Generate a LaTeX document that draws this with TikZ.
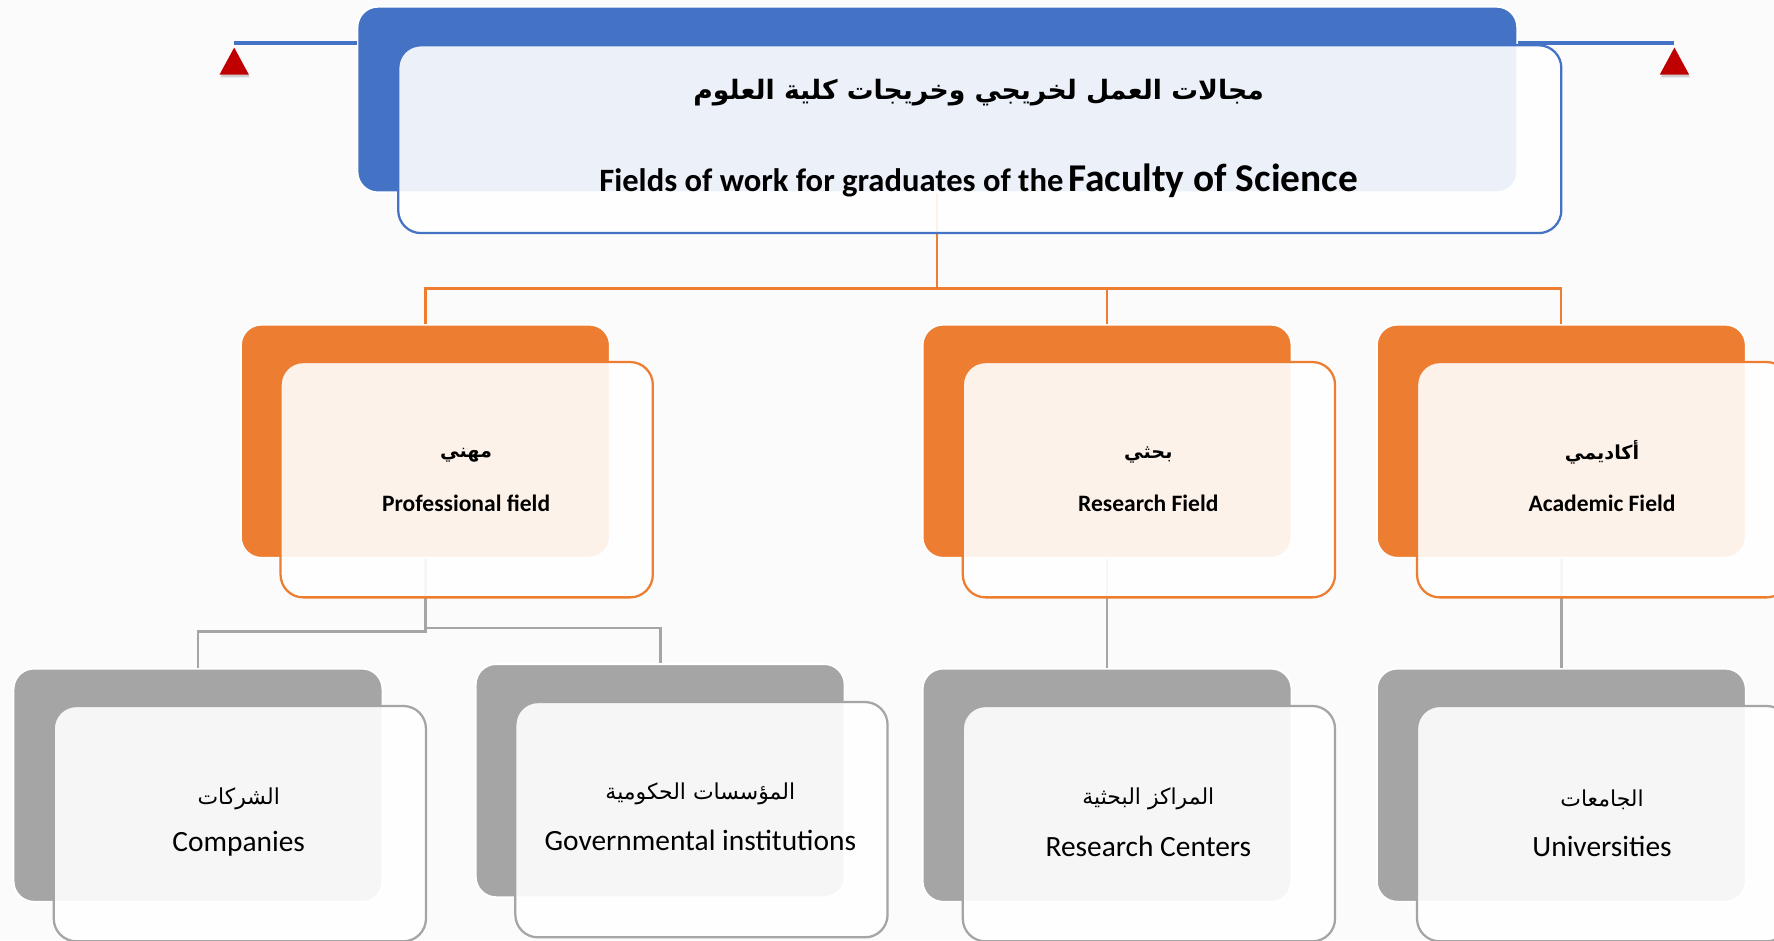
\documentclass[tikz,border=0pt]{standalone}
\usepackage{fontspec}
\setmainfont{Carlito}
\newfontfamily\arabicfont[Script=Arabic]{DejaVu Sans}
\TeXXeTstate=1
\usetikzlibrary{shadows,calc}
\definecolor{cblue}{HTML}{4472C4}
\definecolor{corange}{HTML}{ED7D31}
\definecolor{cgray}{HTML}{A5A5A5}
\definecolor{cred}{HTML}{C00000}
\definecolor{cbg}{HTML}{FBFBFB}
\tikzset{
  backbox/.style={rectangle, rounded corners=9pt, minimum width=163pt, minimum height=103pt, inner sep=0pt, draw=white, line width=0.8pt},
  frontbox/.style={rectangle, rounded corners=10pt, minimum width=164.5pt, minimum height=104pt, inner sep=0pt, fill=white, fill opacity=0.9, line width=1pt},
  titleback/.style={backbox, fill=cblue, minimum width=512.5pt, minimum height=82pt},
  titlefront/.style={frontbox, draw=cblue, minimum width=514pt, minimum height=83pt},
  oback/.style={backbox, fill=corange},
  ofront/.style={frontbox, draw=corange},
  gback/.style={backbox, fill=cgray},
  gfront/.style={frontbox, draw=cgray},
  oline/.style={draw=corange, line width=1pt},
  gline/.style={draw=cgray, line width=1.2pt},
  bline/.style={draw=cblue, line width=1.5pt},
  redtri/.style={fill=cred, drop shadow={opacity=0.35, shadow xshift=0.4pt, shadow yshift=-1.2pt}},
  artitle/.style={inner sep=0pt, font=\arabicfont\bfseries\fontsize{11.8}{14}\selectfont},
  entitle/.style={inner sep=0pt, font=\bfseries},
  armid/.style={inner sep=0pt, font=\arabicfont\bfseries\fontsize{8.5}{10}\selectfont},
  enmid/.style={inner sep=0pt, font=\bfseries\fontsize{10.4}{12}\selectfont},
  arlow/.style={inner sep=0pt, font=\arabicfont\fontsize{9.7}{12}\selectfont},
  enlow/.style={inner sep=0pt, font=\fontsize{13}{15}\selectfont},
}
\begin{document}
\begin{tikzpicture}[x=0.5pt,y=-0.5pt]
\useasboundingbox (0,0) rectangle (1568,831);
\clip (0,0) rectangle (1568,831);
\fill[cbg] (0,0) rectangle (1568,831);

% back boxes
\node[titleback] (tb) at (828.5,88) {};
\node[oback] (pb) at (376,390) {};
\node[oback] (rb) at (978.5,390) {};
\node[oback] (ab) at (1380,390) {};
\node[gback] (cb) at (175,694) {};
\node[gback] (gb) at (583.5,690) {};
\node[gback] (rcb) at (978.5,694) {};
\node[gback] (ub) at (1380,694) {};

% top decorations
\coordinate (ltip) at (207,38);
\coordinate (rtip) at (1480,38);
\draw[bline] (ltip) -- (ltip -| tb.west);
\draw[bline] (rtip) -- (rtip -| tb.east);
\fill[redtri] (207,42) -- (220,66) -- (194,66) -- cycle;
\fill[redtri] (1480,42) -- (1493,66) -- (1467,66) -- cycle;

% connectors
\coordinate (hub) at (828.5,255);
\draw[oline] (tb.south) -- (hub);
\draw[oline] (hub) -| (pb.north);
\draw[oline] (hub) -| (rb.north);
\draw[oline] (hub) -| (ab.north);
\coordinate (pjl) at (376,558);
\coordinate (pjr) at (376,555);
\draw[gline] (pb.south) -- (pjl) -| (cb.north);
\draw[gline] (pjr) -| (gb.north);
\draw[gline] (rb.south) -- (rcb.north);
\draw[gline] (ab.south) -- (ub.north);

% front boxes
\node[titlefront] (tf) at (866,123) {};
\node[ofront] (pf) at (412.5,424) {};
\node[ofront] (rf) at (1015.5,424) {};
\node[ofront] (af) at (1417,424) {};
\node[gfront] (cf) at (212,728) {};
\node[gfront] (gf) at (620,724.5) {};
\node[gfront] (rcf) at (1015.5,728) {};
\node[gfront] (uf) at (1417,728) {};

% texts
\node[artitle] (t1) at (865,82) {\beginR مجالات العمل لخريجي وخريجات كلية العلوم\endR};
\node[entitle] (t2) at (865,160) {{\fontsize{14.4}{17}\selectfont Fields of work for graduates of the} {\fontsize{17.4}{20}\selectfont Faculty of Science}};

\node[armid] (pa) at (412,402) {\beginR مهني\endR};
\node[enmid] (pe) at (412,445) {Professional field};
\node[armid] (ra) at (1015,402) {\beginR بحثي\endR};
\node[enmid] (re) at (1015,445) {Research Field};
\node[armid] (aa) at (1416,400) {\beginR أكاديمي\endR};
\node[enmid] (ae) at (1416,445) {Academic Field};

\node[arlow] (ca) at (211,706) {\beginR الشركات\endR};
\node[enlow] (ce) at (211,746) {Companies};
\node[arlow] (ga) at (619,702) {\beginR المؤسسات الحكومية\endR};
\node[enlow] (ge) at (619,743) {Governmental institutions};
\node[arlow] (rca) at (1015,706) {\beginR المراكز البحثية\endR};
\node[enlow] (rce) at (1015,748) {Research Centers};
\node[arlow] (ua) at (1416,707) {\beginR الجامعات\endR};
\node[enlow] (ue) at (1416,748) {Universities};
\end{tikzpicture}
\end{document}
